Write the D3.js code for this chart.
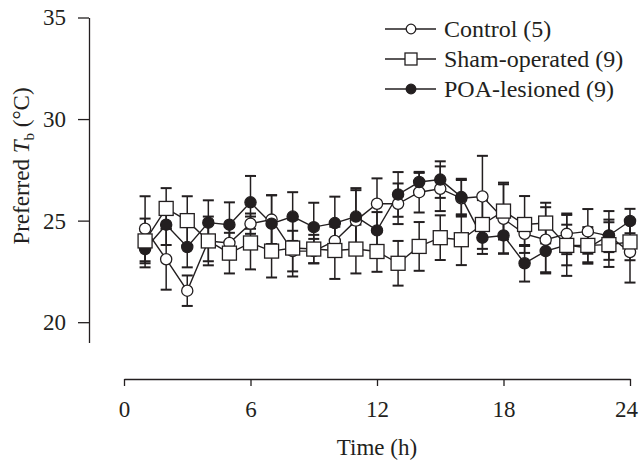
<!DOCTYPE html>
<html>
<head>
<meta charset="utf-8">
<script src="https://cdn.jsdelivr.net/npm/d3@7"></script>
<style>
  body { margin: 0; background: #fff; }
  svg text { font-family: "Liberation Serif", "Times New Roman", serif; fill: #231f20; }
</style>
</head>
<body>
<div class="curr-graff"></div>
<script>
// hours 1..24
const hours = d3.range(1, 25);
const xTicks = [0, 6, 12, 18, 24];
const yTicks = [20, 25, 30, 35];

const controlMean = [24.6, 23.1, 21.55, 24.0, 23.9, 24.85, 25.05, 23.5, 23.5, 24.0, 25.0, 25.83,
                     25.83, 26.4, 26.57, 26.1, 26.19, 25.09, 24.35, 24.06, 24.35, 24.47, 24.25, 23.45];
const controlErr  = [1.6, 1.5, 0.75, 1.2, 0.8, 0.5, 1.2, 1.0, 0.6, 0.7, 1.5, 1.25,
                     1.0, 1.0, 1.1, 0.9, 2.0, 1.7, 0.6, 1.6, 1.0, 1.1, 0.8, 1.5];

const shamMean = [24.0, 25.6, 25.0, 24.0, 23.4, 23.9, 23.5, 23.65, 23.6, 23.53, 23.6, 23.48,
                  22.9, 23.73, 24.16, 24.06, 24.81, 25.47, 24.81, 24.88, 23.78, 23.78, 23.82, 23.95];
const shamErr  = [1.1, 1.0, 1.2, 1.0, 1.0, 1.3, 1.3, 1.4, 0.7, 1.4, 1.2, 1.0,
                  1.1, 1.2, 1.1, 1.25, 1.2, 1.4, 1.4, 1.0, 1.5, 0.9, 1.1, 0.9];

const poaMean = [23.6, 24.8, 23.7, 24.9, 24.8, 25.9, 24.85, 25.2, 24.68, 24.88, 25.2, 24.52,
                 26.29, 26.9, 27.02, 26.16, 24.16, 24.27, 22.9, 23.5, 23.8, 23.65, 24.27, 24.98];
const poaErr  = [0.9, 1.0, 1.0, 1.1, 1.1, 1.3, 1.4, 1.2, 1.2, 1.3, 1.4, 0.9,
                 1.1, 0.45, 0.9, 0.9, 0.8, 0.9, 0.9, 1.1, 1.0, 0.7, 1.2, 0.6];

const seriesNames = ["Control (5)", "Sham-operated (9)", "POA-lesioned (9)"];

const width = 640, height = 463;

const svg = d3.select(".curr-graff")
    .append("svg")
    .attr("width", width)
    .attr("height", height);

const xScale = d3.scaleLinear().domain([0, 24]).range([124, 630]);
const yScale = d3.scaleLinear().domain([19, 35]).range([342.5, 17.5]);

// axes
const yAxis = d3.axisLeft(yScale).tickValues(yTicks).tickSize(11).tickSizeOuter(0).tickPadding(12);
const xAxis = d3.axisBottom(xScale).tickValues(xTicks).tickSize(7).tickSizeOuter(0).tickPadding(15);

const gy = svg.append("g")
    .attr("transform", "translate(89,0)")
    .call(yAxis);
const gx = svg.append("g")
    .attr("transform", "translate(0,379)")
    .call(xAxis);

[gx, gy].forEach(g => {
    g.attr("font-family", null);
    g.selectAll("path, line").attr("stroke", "#231f20").attr("stroke-width", 1.3);
    g.selectAll("text").attr("font-size", 23).attr("fill", "#231f20")
        .style("font-family", '"Liberation Serif", serif');
});
// last label sits at the page edge, nudge it in
gx.selectAll(".tick text").filter(d => d === 24).attr("dx", -4);

svg.append("text")
    .attr("x", 377).attr("y", 455)
    .attr("text-anchor", "middle")
    .attr("font-size", 23)
    .text("Time (h)");

const yTitle = svg.append("text")
    .attr("transform", "translate(29,166) rotate(-90)")
    .attr("text-anchor", "middle")
    .attr("font-size", 23);
yTitle.append("tspan").text("Preferred ");
yTitle.append("tspan").attr("font-style", "italic").text("T");
yTitle.append("tspan").attr("font-size", 15).attr("dy", 5).text("b");
yTitle.append("tspan").attr("dy", -5).text(" (°C)");

const series = [
    {name: seriesNames[0], mean: controlMean, err: controlErr, shape: "circle", fill: "#fff"},
    {name: seriesNames[1], mean: shamMean, err: shamErr, shape: "square", fill: "#fff"},
    {name: seriesNames[2], mean: poaMean, err: poaErr, shape: "circle", fill: "#231f20"}
];

const line = d3.line()
    .x((d, i) => xScale(hours[i]))
    .y(d => yScale(d));

// error bars
series.forEach(s => {
    const g = svg.append("g").attr("stroke", "#231f20").attr("stroke-width", 1.5);
    hours.forEach((h, i) => {
        const x = xScale(h);
        const top = yScale(s.mean[i] + s.err[i]);
        const bot = yScale(s.mean[i] - s.err[i]);
        g.append("line").attr("x1", x).attr("x2", x).attr("y1", top).attr("y2", bot);
        g.append("line").attr("x1", x - 5.5).attr("x2", x + 5.5).attr("y1", top).attr("y2", top).attr("stroke-width", 2);
        g.append("line").attr("x1", x - 5.5).attr("x2", x + 5.5).attr("y1", bot).attr("y2", bot).attr("stroke-width", 2);
    });
});

// lines
series.forEach(s => {
    svg.append("path")
        .datum(s.mean)
        .attr("fill", "none")
        .attr("stroke", "#231f20")
        .attr("stroke-width", 1.4)
        .attr("d", line);
});

function drawMarker(g, shape, fill, x, y, size) {
    if (shape === "square") {
        g.append("rect")
            .attr("x", x - size).attr("y", y - size)
            .attr("width", size * 2).attr("height", size * 2)
            .attr("fill", fill).attr("stroke", "#231f20").attr("stroke-width", 1.3);
    } else {
        g.append("circle")
            .attr("cx", x).attr("cy", y).attr("r", size * 0.8)
            .attr("fill", fill).attr("stroke", "#231f20").attr("stroke-width", 1.3);
    }
}

// markers: control, POA, then sham on top
[series[0], series[2], series[1]].forEach(s => {
    const g = svg.append("g");
    s.mean.forEach((v, i) => drawMarker(g, s.shape, s.fill, xScale(hours[i]), yScale(v), 7));
});

// legend
const legendY = [29, 59, 89];
series.forEach((s, i) => {
    const g = svg.append("g");
    g.append("line")
        .attr("x1", 385).attr("x2", 436)
        .attr("y1", legendY[i]).attr("y2", legendY[i])
        .attr("stroke", "#231f20").attr("stroke-width", 1.4);
    drawMarker(g, s.shape, s.fill, 411, legendY[i], 6);
    g.append("text")
        .attr("x", 444).attr("y", legendY[i])
        .attr("dy", "0.33em")
        .attr("font-size", 24)
        .text(s.name);
});
</script>
</body>
</html>
